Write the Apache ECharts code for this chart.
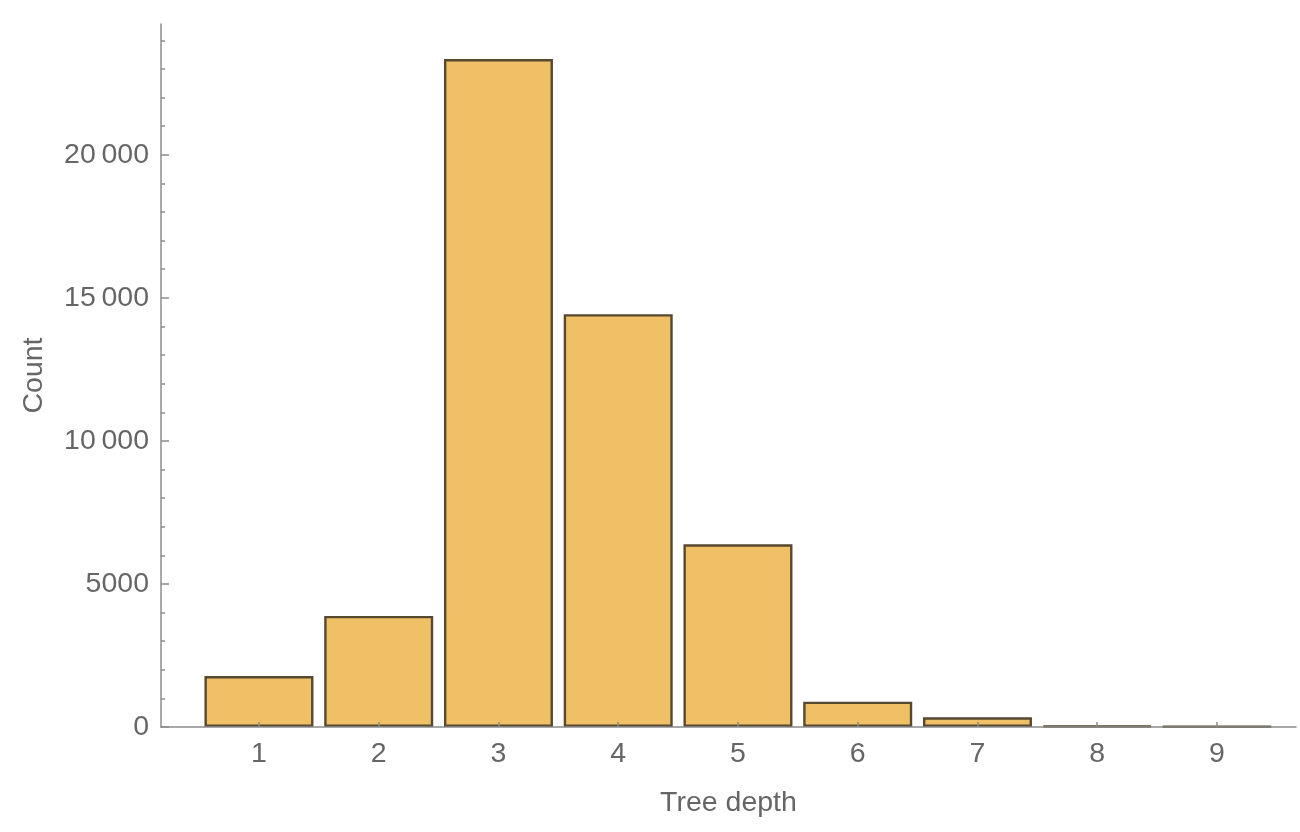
<!DOCTYPE html>
<html>
<head>
<meta charset="utf-8">
<script src="https://cdn.jsdelivr.net/npm/echarts@6/dist/echarts.min.js"></script>
<style>
  html, body { margin: 0; padding: 0; background: #fff; }
  #chart { width: 1300px; height: 832px; }
</style>
</head>
<body>
<div id="chart"></div>
<script>
// tree depth histogram
var depths = [1, 2, 3, 4, 5, 6, 7, 8, 9];
var counts = [1783, 3881, 23346, 14430, 6388, 885, 339, 40, 15];
var yMajorTicks = [0, 5000, 10000, 15000, 20000];
var yMinorTicks = [1000, 2000, 3000, 4000, 6000, 7000, 8000, 9000, 11000, 12000, 13000, 14000,
                   16000, 17000, 18000, 19000, 21000, 22000, 23000, 24000];

var font = 'Liberation Sans';
var fontSize = 28.5;
var labelColor = '#666666';
var axisColor = '#8c8c8c';

// mathematica style grouping: 20 000, but 5000
function fmt(v) {
  if (v < 10000) return String(v);
  var s = String(v);
  return s.slice(0, s.length - 3) + '\u2009' + s.slice(-3);
}

var chart = echarts.init(document.getElementById('chart'));

chart.setOption({
  animation: false,
  backgroundColor: '#ffffff',
  grid: { left: 161, right: 4, top: 24, bottom: 105 },
  xAxis: {
    type: 'value',
    min: 0.182,
    max: 9.66,
    z: 3,
    name: 'Tree depth',
    nameLocation: 'middle',
    nameGap: 62,
    nameTextStyle: { fontFamily: font, fontSize: fontSize, color: labelColor },
    splitLine: { show: false },
    axisLine: { show: true, lineStyle: { color: axisColor, width: 1.5 } },
    axisTick: { inside: true, length: 5, customValues: depths, lineStyle: { color: axisColor, width: 1.5 } },
    axisLabel: { customValues: depths, margin: 13, fontFamily: font, fontSize: fontSize, color: labelColor }
  },
  yAxis: [{
    type: 'value',
    min: 0,
    max: 24570,
    name: 'Count',
    nameLocation: 'middle',
    nameRotate: 90,
    nameGap: 112,
    nameTextStyle: { fontFamily: font, fontSize: fontSize, color: labelColor },
    splitLine: { show: false },
    axisLine: { show: true, lineStyle: { color: axisColor, width: 1.5 } },
    axisTick: { inside: true, length: 8, customValues: yMajorTicks, lineStyle: { color: axisColor, width: 1.5 } },
    axisLabel: { customValues: yMajorTicks, margin: 12, fontFamily: font, fontSize: fontSize, color: labelColor, formatter: fmt }
  }, {
    // minor ticks only
    type: 'value',
    position: 'left',
    min: 0,
    max: 24570,
    splitLine: { show: false },
    axisLine: { show: false },
    axisTick: { inside: true, length: 4, customValues: yMinorTicks, lineStyle: { color: axisColor, width: 1.5 } },
    axisLabel: { show: false }
  }],
  series: [{
    type: 'bar',
    barWidth: 109,
    data: depths.map(function (d, i) { return [d, counts[i]]; }),
    itemStyle: { color: '#f0c066', borderColor: '#574830', borderWidth: 2.4 }
  }]
});
</script>
</body>
</html>
